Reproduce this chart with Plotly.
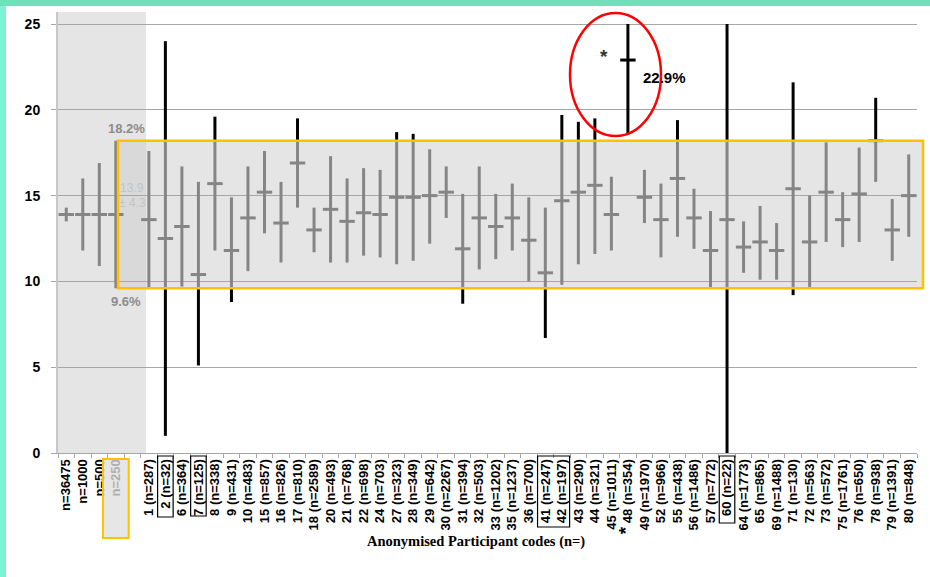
import plotly.graph_objects as go

# ---------------- data ----------------
labels = ["n=36475", "n=1000", "n=500", "n=250", "",
          "1 (n=287)", "2 (n=32)", "6 (n=364)", "7 (n=125)", "8 (n=338)",
          "9 (n=431)", "10 (n=483)", "15 (n=857)", "16 (n=826)", "17 (n=810)",
          "18 (n=2589)", "20 (n=493)", "21 (n=768)", "22 (n=698)", "24 (n=703)",
          "27 (n=323)", "28 (n=349)", "29 (n=642)", "30 (n=2267)", "31 (n=394)",
          "32 (n=503)", "33 (n=1202)", "35 (n=1237)", "36 (n=700)", "41 (n=247)",
          "42 (n=197)", "43 (n=290)", "44 (n=321)", "45 (n=1011)", "48 (n=354)",
          "49 (n=1970)", "52 (n=966)", "55 (n=438)", "56 (n=1486)", "57 (n=772)",
          "60 (n=22)", "64 (n=1773)", "65 (n=865)", "69 (n=1488)", "71 (n=130)",
          "72 (n=563)", "73 (n=572)", "75 (n=1761)", "76 (n=650)", "78 (n=938)",
          "79 (n=1391)", "80 (n=848)"]

centre = [13.9, 13.9, 13.9, 13.9, None,
          13.6, 12.5, 13.2, 10.4, 15.7,
          11.8, 13.7, 15.2, 13.4, 16.9,
          13.0, 14.2, 13.5, 14.0, 13.9,
          14.9, 14.9, 15.0, 15.2, 11.9,
          13.7, 13.2, 13.7, 12.4, 10.5,
          14.7, 15.2, 15.6, 13.9, 22.9,
          14.9, 13.6, 16.0, 13.7, 11.8,
          13.6, 12.0, 12.3, 11.8, 15.4,
          12.3, 15.2, 13.6, 15.1, 18.2,
          13.0, 15.0]

low = [13.5, 11.8, 10.9, 9.6, None,
       9.6, 1.0, 9.7, 5.1, 11.8,
       8.8, 10.6, 12.8, 11.1, 14.3,
       11.7, 11.1, 11.1, 11.5, 11.4,
       11.0, 11.2, 12.2, 13.7, 8.7,
       10.7, 11.3, 11.8, 10.0, 6.7,
       9.8, 11.0, 11.6, 11.8, 18.6,
       13.4, 11.4, 12.6, 11.9, 9.6,
       0.0, 10.5, 10.1, 10.1, 9.2,
       9.6, 12.3, 12.0, 12.3, 15.8,
       11.2, 12.6]

high = [14.3, 16.0, 16.9, 18.2, None,
        17.6, 24.0, 16.7, 15.8, 19.6,
        14.9, 16.7, 17.6, 15.8, 19.5,
        14.3, 17.3, 16.0, 16.6, 16.5,
        18.7, 18.6, 17.7, 16.7, 15.1,
        16.7, 15.1, 15.7, 14.9, 14.3,
        19.7, 19.3, 19.5, 16.1, 25.0,
        16.5, 15.7, 19.4, 15.4, 14.1,
        25.0, 13.5, 14.4, 13.4, 21.6,
        15.0, 18.1, 15.2, 17.8, 20.7,
        14.8, 17.4]

band_low, band_high = 9.6, 18.2        # acceptable range (%)
ref_mean, ref_sd = 13.9, 4.3
outlier_value = 22.9

# ---------------- styling ----------------
GREY = "#858585"
BLACK = "#000000"
YELLOW = "#FFC000"
SHADE = "#CFCFCF"

cats = [l if l else " " for l in labels]

# build segments
gx, gy, bx, by = [], [], [], []
for c, lo, hi in zip(cats, low, high):
    if lo is None:
        continue
    g0, g1 = max(lo, band_low), min(hi, band_high)
    if g1 > g0:
        gx += [c, c, None]; gy += [g0, g1, None]
    if lo < band_low:
        bx += [c, c, None]; by += [lo, min(hi, band_low), None]
    if hi > band_high:
        bx += [c, c, None]; by += [max(lo, band_high), hi, None]

mx_g, my_g, mx_b, my_b = [], [], [], []
for c, m in zip(cats, centre):
    if m is None:
        continue
    if band_low <= m <= band_high + 0.05:
        mx_g.append(c); my_g.append(m)
    else:
        mx_b.append(c); my_b.append(m)

fig = go.Figure()
fig.add_trace(go.Scatter(x=gx, y=gy, mode="lines", line=dict(color=GREY, width=3),
                         hoverinfo="skip", showlegend=False))
fig.add_trace(go.Scatter(x=bx, y=by, mode="lines", line=dict(color=BLACK, width=3),
                         hoverinfo="skip", showlegend=False))
fig.add_trace(go.Scatter(x=mx_g, y=my_g, mode="markers",
                         marker=dict(symbol="line-ew", size=11,
                                     line=dict(color=GREY, width=3)),
                         showlegend=False))
fig.add_trace(go.Scatter(x=mx_b, y=my_b, mode="markers",
                         marker=dict(symbol="line-ew", size=11,
                                     line=dict(color=BLACK, width=3)),
                         showlegend=False))

N = len(cats)
def px(i):
    return (i + 0.5) / N

L, R, T, B = 58, 13, 12, 124
W, H = 930, 577
PH = H - T - B
PW = W - L - R
def py(ypix):
    return (H - B - ypix) / PH
def pxp(xpix):
    return (xpix - L) / PW

ticktext = []
for i, l in enumerate(labels):
    if l == "n=250":
        ticktext.append("<span style='color:#9a9a9a'>n=250</span>")
    elif l.startswith("48 "):
        ticktext.append("<span style='font-size:19px'>*</span> " + l)
    else:
        ticktext.append(l)

shapes = [
    # teal frame
    dict(type="rect", xref="paper", yref="paper", x0=pxp(-20), x1=pxp(960),
         y0=py(6), y1=py(-20), fillcolor="#6FE0B9", line_width=0, layer="below"),
    dict(type="rect", xref="paper", yref="paper", x0=pxp(-20), x1=pxp(6),
         y0=py(600), y1=py(6), fillcolor="#7EF3D3", line_width=0, layer="below"),
    # left shaded reference region
    dict(type="rect", xref="paper", yref="paper", x0=0, x1=pxp(146),
         y0=0, y1=1, fillcolor=SHADE, opacity=0.55, line_width=0, layer="between"),
    # yellow acceptable band
    dict(type="rect", xref="paper", yref="y", x0=pxp(118), x1=pxp(923),
         y0=band_low, y1=band_high, fillcolor=SHADE, opacity=0.55,
         line_width=0, layer="between"),
    dict(type="rect", xref="paper", yref="y", x0=pxp(118), x1=pxp(923),
         y0=band_low, y1=band_high, fillcolor="rgba(0,0,0,0)",
         line=dict(color=YELLOW, width=2.5), layer="above"),
    # red ellipse
    dict(type="circle", xref="paper", yref="paper", x0=pxp(570), x1=pxp(661),
         y0=py(136), y1=py(13), line=dict(color="#FF0000", width=2.5), layer="above"),
    # boxed tick labels
    dict(type="rect", xref="paper", yref="paper", x0=px(3 - 0.78), x1=px(3 + 0.78),
         y0=py(538), y1=py(459), fillcolor="rgba(200,200,200,0.45)",
         line=dict(color=YELLOW, width=2), layer="above"),
]
for a, b, ybot in [(6, 6, 517), (8, 8, 516), (29, 30, 527), (40, 40, 523)]:
    shapes.append(dict(type="rect", xref="paper", yref="paper",
                       x0=px(a - 0.47), x1=px(b + 0.47), y0=py(ybot), y1=py(456),
                       line=dict(color="black", width=1.2), layer="above"))

annotations = [
    dict(x=3.62, y=band_high, yshift=12, text=f"<b>{band_high}%</b>", showarrow=False,
         font=dict(family="Liberation Sans", size=13, color="#8c8c8c")),
    dict(x=3.62, y=band_low, yshift=-13, text=f"<b>{band_low}%</b>", showarrow=False,
         font=dict(family="Liberation Sans", size=13, color="#8c8c8c")),
    dict(x=3.98, y=ref_mean + 1.55, text=f"{ref_mean}", showarrow=False,
         font=dict(family="Liberation Sans", size=12, color="#c4c4c4")),
    dict(x=3.98, y=ref_mean + 0.65, text=f"± {ref_sd}", showarrow=False,
         font=dict(family="Liberation Sans", size=12, color="#c4c4c4")),
    dict(x=36.21, y=21.9, text=f"<b>{outlier_value}%</b>", showarrow=False,
         font=dict(family="Liberation Sans", size=15, color="black")),
    dict(x=32.55, y=23.1, text="<b>*</b>", showarrow=False,
         font=dict(family="Liberation Sans", size=19, color="#333333")),
    dict(xref="paper", yref="paper", x=pxp(476), y=py(552),
         text="<b>Anonymised Participant codes (n=)</b>", showarrow=False,
         font=dict(family="Liberation Serif", size=14.5, color="black")),
]

fig.update_layout(
    width=W, height=H,
    margin=dict(l=L, r=R, t=T, b=B),
    paper_bgcolor="white", plot_bgcolor="white",
    shapes=shapes, annotations=annotations,
    showlegend=False,
    xaxis=dict(type="category", categoryorder="array", categoryarray=cats,
               tickvals=cats, ticktext=ticktext, tickangle=-90,
               range=[-0.5, N - 0.5],
               tickfont=dict(family="Liberation Sans", size=13, color="black", weight="bold"),
               ticks="outside", tickson="boundaries", ticklen=4, tickcolor="#a6a6a6",
               showgrid=False, showline=True, linecolor="#a6a6a6", linewidth=1,
               zeroline=False, fixedrange=True),
    yaxis=dict(range=[0, 25.7], tickvals=[0, 5, 10, 15, 20, 25],
               tickfont=dict(family="Liberation Sans", size=14, color="black", weight="bold"),
               ticks="outside", ticklen=5, tickcolor="#a6a6a6", ticklabelstandoff=8,
               showgrid=True, gridcolor="#a6a6a6", gridwidth=1,
               showline=True, linecolor="#c8c8c8", linewidth=2,
               zeroline=False, fixedrange=True),
)

fig.write_html("out.html", config={"displayModeBar": False, "staticPlot": True},
               post_script="document.body.style.margin='0px';document.body.style.overflow='hidden';")
